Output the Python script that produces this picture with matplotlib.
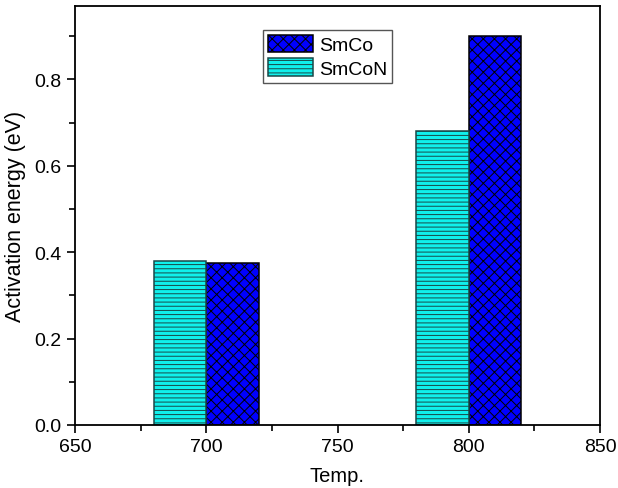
import matplotlib
matplotlib.use("Agg")
import matplotlib.pyplot as plt
from matplotlib.ticker import MultipleLocator

plt.rcParams["font.family"] = ["Liberation Sans", "DejaVu Sans"]
plt.rcParams["hatch.linewidth"] = 0.7

#data
temps = [700, 800]
smco = [0.375, 0.90]
smcon = [0.38, 0.68]
bar_w = 20

fig = plt.figure(figsize=(6.18, 4.89), dpi=100)
ax = fig.add_axes([75 / 618, 1 - 426 / 489, 525 / 618, 419 / 489])

ax.bar([t + bar_w / 2 for t in temps], smco, width=bar_w, color="#0000FF",
       edgecolor="black", hatch="xxx", linewidth=1.1, label="SmCo")
ax.bar([t - bar_w / 2 for t in temps], smcon, width=bar_w, color="#10F0EC",
       edgecolor="#184848", hatch="----", linewidth=1.1, label="SmCoN")

ax.set_xlim(650, 850)
ax.set_ylim(0, 0.97)
ax.xaxis.set_major_locator(MultipleLocator(50))
ax.xaxis.set_minor_locator(MultipleLocator(25))
ax.yaxis.set_major_locator(MultipleLocator(0.2))
ax.yaxis.set_minor_locator(MultipleLocator(0.1))
ax.yaxis.set_major_formatter(plt.FormatStrFormatter("%.1f"))
ax.tick_params(which="major", direction="out", length=6, width=1.2, labelsize=14)
ax.tick_params(which="minor", direction="out", length=4, width=1.2)
for s in ax.spines.values():
    s.set_linewidth(1.3)

ax.set_xlabel("Temp.", fontsize=14.5, labelpad=8)
ax.set_ylabel("Activation energy (eV)", fontsize=15.5, labelpad=6)

leg = ax.legend(loc="upper left", bbox_to_anchor=(0.358, 0.943), fontsize=14,
                fancybox=False, edgecolor="#555555", framealpha=1,
                borderaxespad=0, handlelength=2.3, handleheight=1.0,
                handletextpad=0.35, borderpad=0.25, labelspacing=0.22)
leg.get_frame().set_linewidth(1.0)

plt.savefig("out.png", dpi=100)
